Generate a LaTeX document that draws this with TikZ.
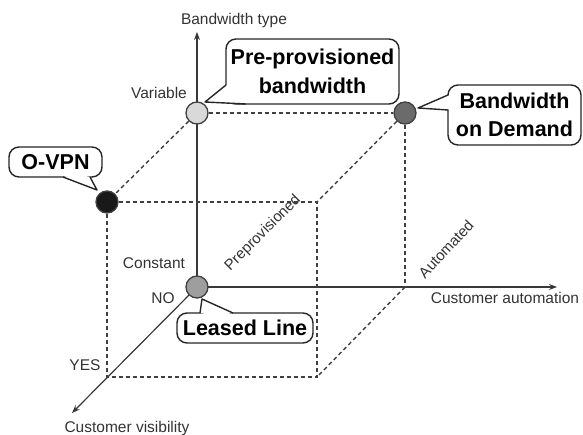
\documentclass[tikz,border=0pt]{standalone}
\usepackage{fontspec}
\setmainfont{Liberation Sans}
\usetikzlibrary{arrows.meta,calc}
\pgfdeclarelayer{background}
\pgfsetlayers{background,main}
\begin{document}
\begin{tikzpicture}[x=1pt,y=-1pt,
  axis/.style={draw=black!78, line width=1.2pt, -{Stealth[length=8pt,width=6pt]}},
  cube/.style={draw=black!75, line width=1.4pt, dash pattern=on 4pt off 3pt},
  dot/.style={circle, draw=black!75, line width=1.3pt, minimum size=22pt, inner sep=0pt},
  lbl/.style={text=black!80, font=\fontsize{15.5}{18}\selectfont, inner sep=0pt},
  rlbl/.style={text=black!80, font=\fontsize{15}{18}\selectfont, inner sep=0pt},
  bubble/.style={draw=black!85, line width=1.4pt, fill=white, rounded corners=10pt, align=center, inner sep=0pt, font=\bfseries\fontsize{21.5}{28.5}\selectfont},
  ptr/.style={draw=black!85, line width=1.4pt, line join=round}
]
\useasboundingbox (0,0) rectangle (583,435);
% circles
\node[dot, fill=black!38] (ll) at (197,287) {};
\node[dot, fill=black!15] (pp) at (197,113) {};
\node[dot, fill=black!58] (bod) at (405,113) {};
\node[dot, fill=black!90] (ov) at (107,202) {};
% cube corners and axis ends
\coordinate (ftr) at (317,202);
\coordinate (fbl) at (107,377);
\coordinate (fbr) at (317,377);
\coordinate (bbr) at (405,287);
\coordinate (ytip) at (197,32);
\coordinate (xtip) at (557,287);
\coordinate (ztip) at (72,413);
\begin{pgfonlayer}{background}
\draw[axis] (ll.center) -- (ytip);
\draw[axis] (ll.center) -- (xtip);
\draw[axis] (ll.center) -- (ztip);
\draw[cube] (pp) -- (bod);
\draw[cube] (pp) -- (ov);
\draw[cube] (bod) -- (ftr);
\draw[cube] (bod) -- (bbr);
\draw[cube] (ov) -- (ftr);
\draw[cube] (ov) -- (fbl) -- (fbr) -- (ftr);
\draw[cube] (bbr) -- (fbr);
\end{pgfonlayer}
% labels
\node[lbl] (bt) at (234,20) {Bandwidth type};
\node[lbl] (var) at (159,93) {Variable};
\node[lbl] (con) at (154,263) {Constant};
\node[lbl] (no) at (163,298) {NO};
\node[lbl] (yes) at (85,365) {YES};
\node[lbl] (cv) at (127,428) {Customer visibility};
\node[lbl] (ca) at (505,298) {Customer automation};
\node[rlbl, rotate=45] (pre) at (263,233) {Preprovisioned};
\node[rlbl, rotate=47] (aut) at (446,249) {Automated};
% callouts
\node[bubble, minimum width=173pt, minimum height=65pt] (cpp) at (312.5,71.5) {Pre-provisioned\\bandwidth};
\fill[white] (226,85) -- (205,102) -- (246,104) -- (236,94) -- cycle;
\draw[ptr] (226,85) -- (205,102) -- (246,104);

\node[bubble, minimum width=133pt, minimum height=60pt] (cbod) at (514.5,115) {Bandwidth\\on Demand};
\fill[white] (448,95) -- (418,108) -- (448,110) -- (453,103) -- cycle;
\draw[ptr] (448,95) -- (418,108) -- (448,110);

\node[bubble, minimum width=93pt, minimum height=30pt] (cov) at (55.5,162) {O-VPN};
\fill[white] (63,177) -- (97,190) -- (90,177) -- (76,174) -- cycle;
\draw[ptr] (63,177) -- (97,190) -- (90,177);

\node[bubble, minimum width=136pt, minimum height=30pt] (cll) at (245,328) {Leased Line};
\fill[white] (200,313) -- (202,299) -- (233,313) -- (216,316) -- cycle;
\draw[ptr] (200,313) -- (202,299) -- (233,313);
\end{tikzpicture}
\end{document}
